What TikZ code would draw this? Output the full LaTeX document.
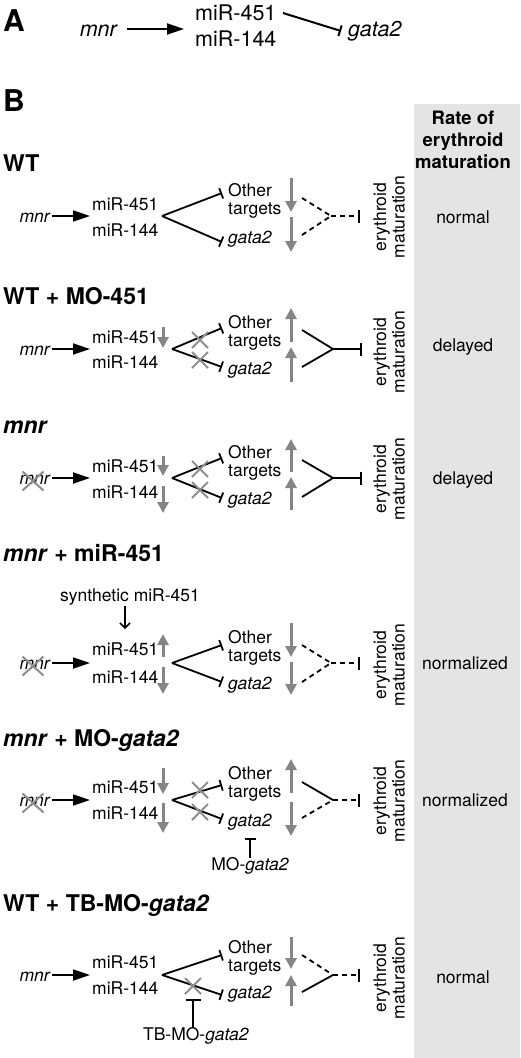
\documentclass[tikz,border=0pt]{standalone}
\usepackage{fontspec}
\setmainfont{TeX Gyre Heros}
\usetikzlibrary{arrows.meta,shapes.misc,calc}
\definecolor{colbg}{HTML}{E4E4E4}
\definecolor{garr}{HTML}{858585}
\definecolor{gxc}{HTML}{8E8E8E}
\begin{document}
\begin{tikzpicture}[x=1pt,y=-1pt,
  txt/.style={inner sep=0pt,font=\fontsize{17.5}{20}\selectfont,text height=12.5pt,text depth=0pt},
  it/.style={txt,font=\fontsize{17.5}{20}\selectfont\itshape},
  txtA/.style={inner sep=0pt,font=\fontsize{21.5}{24}\selectfont,text height=15.5pt,text depth=0pt},
  itA/.style={txtA,font=\fontsize{21.5}{24}\selectfont\itshape},
  ttl/.style={inner sep=0pt,font=\fontsize{23}{26}\selectfont\bfseries,text height=16.5pt,text depth=0pt},
  lbl/.style={inner sep=0pt,font=\fontsize{30}{32}\selectfont\bfseries},
  ery/.style={inner sep=0pt,rotate=90,align=center,font=\fontsize{17.5}{18.5}\selectfont},
  act/.style={draw,line width=1.8pt,-{Triangle[length=17pt,width=11pt]}},
  inh/.style={draw,line width=1.8pt,-{Bar[width=11pt]}},
  dsh/.style={draw,line width=1.8pt,dash pattern=on 5pt off 4pt},
  garrow/.style={draw=garr,line width=3pt,-{Triangle[length=11pt,width=11pt]}},
  gx/.style={draw=gxc,cross out,line width=2pt,minimum size=14pt,inner sep=0pt},
  gxm/.style={draw=gxc,cross out,line width=2pt,minimum width=19pt,minimum height=17pt,inner sep=0pt}]
\useasboundingbox (0,0) rectangle (520,1058);
\fill[colbg] (414,104) rectangle (520,1058);

% ---------- Panel A
\node[lbl,anchor=west] (A) at (3,21) {A};
\node[itA,anchor=east] (mnrA) at (117,29) {mnr};
\node[txtA,anchor=west] (m451A) at (195,13) {miR-451};
\node[txtA,anchor=west] (m144A) at (195,39) {miR-144};
\node[itA,anchor=west] (gataA) at (348,29) {gata2};
\draw[act,line width=2pt] ([xshift=10pt]mnrA.east) -- ([xshift=-11pt]mnrA.east -| m451A.west);
\coordinate (aS) at (283,13);
\coordinate (aE) at (341,31);
\draw[inh,line width=2pt] (aS) -- (aE);

% ---------- Panel B header
\node[lbl,anchor=west] (B) at (3,101) {B};
\node[align=center,inner sep=0pt,font=\fontsize{18.5}{22}\selectfont\bfseries] (hdr) at (463,140) {Rate of\\erythroid\\maturation};

% ---------- WT
\begin{scope}[shift={(0,216)}]
\node[ttl,anchor=west] (t1) at (3,-53) {WT};
\node[it,anchor=east] (mnr1) at (50,0) {mnr};
\node[txt,anchor=west] (m451a) at (92,-12) {miR-451};
\node[txt,anchor=west] (m144a) at (92,14) {miR-144};
\draw[act] ([xshift=2pt]mnr1.east) -- ([xshift=-2pt]mnr1.east -| m451a.west);
\coordinate (ap1) at (162,0);
\coordinate (u1) at (222,-23);
\coordinate (l1) at (222,26);
\node[txt,anchor=west] (oth1) at (228,-26) {Other};
\node[txt,anchor=west] (tg1) at (228,-8) {targets};
\node[it,anchor=west] (ga1) at (228,21) {gata2};
\draw[inh] (ap1) -- (u1);
\draw[inh] (ap1) -- (l1);
\draw[garrow] (291,-38) -- (291,-4);
\draw[garrow] (291,1) -- (291,36);
\coordinate (d1a) at (302,-18);
\coordinate (d1b) at (302,19);
\coordinate (j1) at (331,0);
\coordinate (b1) at (360,0);
\draw[dsh] (d1a) -- (j1);
\draw[dsh] (d1b) -- (j1);
\draw[dsh,-{Bar[width=13pt]}] (j1) -- (b1);
\node[ery] (e1) at (389,1) {erythroid\\maturation};
\node[txt] (r1) at (463,1) {normal};
\end{scope}

% ---------- WT + MO-451
\begin{scope}[shift={(0,349)}]
\node[ttl,anchor=west] (t2) at (3,-53) {WT + MO-451};
\node[it,anchor=east] (mnr2) at (50,0) {mnr};
\node[txt,anchor=west] (m451b) at (92,-12) {miR-451};
\node[txt,anchor=west] (m144b) at (92,13) {miR-144};
\draw[act] ([xshift=2pt]mnr2.east) -- ([xshift=-2pt]mnr2.east -| m451b.west);
\draw[garrow] (163,-22) -- (163,-1);
\coordinate (ap2) at (172,0);
\coordinate (u2) at (222,-21);
\coordinate (l2) at (222,18);
\node[txt,anchor=west] (oth2) at (228,-27) {Other};
\node[txt,anchor=west] (tg2) at (228,-9) {targets};
\node[it,anchor=west] (ga2) at (228,19) {gata2};
\draw[inh] (ap2) -- (u2);
\draw[inh] (ap2) -- (l2);
\node[gx] (x2a) at (200,-9) {};
\node[gx] (x2b) at (200,11) {};
\draw[garrow] (291,-7) -- (291,-41);
\draw[garrow] (291,33) -- (291,-2);
\coordinate (d2a) at (302,-19);
\coordinate (d2b) at (302,18);
\coordinate (j2) at (333,0);
\coordinate (b2) at (362,0);
\draw[line width=1.8pt] (d2a) -- (j2) -- (d2b);
\draw[inh,-{Bar[width=13pt]}] (j2) -- (b2);
\node[ery] (e2) at (389,3) {erythroid\\maturation};
\node[txt] (r2) at (463,-4) {delayed};
\end{scope}

% ---------- mnr
\begin{scope}[shift={(0,478)}]
\node[ttl,anchor=west,font=\fontsize{23}{26}\selectfont\bfseries\itshape] (t3) at (3,-53) {mnr};
\node[it,anchor=east] (mnr3) at (50,0) {mnr};
\node[gxm] (xm3) at (33,3) {};
\node[txt,anchor=west] (m451c) at (92,-12) {miR-451};
\node[txt,anchor=west] (m144c) at (92,14) {miR-144};
\draw[act] ([xshift=2pt]mnr3.east) -- ([xshift=-2pt]mnr3.east -| m451c.west);
\draw[garrow] (163,-22) -- (163,-2);
\draw[garrow] (163,8) -- (163,35);
\coordinate (ap3) at (172,0);
\coordinate (u3) at (222,-20);
\coordinate (l3) at (222,20);
\node[txt,anchor=west] (oth3) at (228,-26) {Other};
\node[txt,anchor=west] (tg3) at (228,-8) {targets};
\node[it,anchor=west] (ga3) at (228,20) {gata2};
\draw[inh] (ap3) -- (u3);
\draw[inh] (ap3) -- (l3);
\node[gx] (x3a) at (200,-9) {};
\node[gx] (x3b) at (200,12) {};
\draw[garrow] (291,-6) -- (291,-39);
\draw[garrow] (291,32) -- (291,-1);
\coordinate (d3a) at (302,-18);
\coordinate (d3b) at (302,19);
\coordinate (j3) at (333,0);
\coordinate (b3) at (362,0);
\draw[line width=1.8pt] (d3a) -- (j3) -- (d3b);
\draw[inh,-{Bar[width=13pt]}] (j3) -- (b3);
\node[ery] (e3) at (389,1) {erythroid\\maturation};
\node[txt] (r3) at (463,0) {delayed};
\end{scope}

% ---------- mnr + miR-451
\begin{scope}[shift={(0,663)}]
\node[ttl,anchor=west] (t4) at (3,-110) {\textit{mnr} + miR-451};
\node[txt] (syn) at (130,-68) {synthetic miR-451};
\coordinate (syE) at (125,-34);
\draw[line width=1.5pt,-{Straight Barb[length=5pt,width=10pt]}] ([xshift=-5pt,yshift=-5pt]syn.south) -- (syE);
\node[it,anchor=east] (mnr4) at (50,0) {mnr};
\node[gxm] (xm4) at (33,3) {};
\node[txt,anchor=west] (m451d) at (92,-14) {miR-451};
\node[txt,anchor=west] (m144d) at (92,14) {miR-144};
\draw[act] ([xshift=2pt]mnr4.east) -- ([xshift=-2pt]mnr4.east -| m451d.west);
\draw[garrow] (163,-6) -- (163,-29);
\draw[garrow] (163,4) -- (163,31);
\coordinate (ap4) at (172,0);
\coordinate (u4) at (222,-18);
\coordinate (l4) at (222,19);
\node[txt,anchor=west] (oth4) at (228,-26) {Other};
\node[txt,anchor=west] (tg4) at (228,-8) {targets};
\node[it,anchor=west] (ga4) at (228,20) {gata2};
\draw[inh] (ap4) -- (u4);
\draw[inh] (ap4) -- (l4);
\draw[garrow] (291,-40) -- (291,-6);
\draw[garrow] (291,-1) -- (291,32);
\coordinate (d4a) at (302,-18);
\coordinate (d4b) at (302,19);
\coordinate (j4) at (331,0);
\coordinate (b4) at (360,0);
\draw[dsh] (d4a) -- (j4);
\draw[dsh] (d4b) -- (j4);
\draw[dsh,-{Bar[width=13pt]}] (j4) -- (b4);
\node[ery] (e4) at (389,2) {erythroid\\maturation};
\node[txt] (r4) at (465,0) {normalized};
\end{scope}

% ---------- mnr + MO-gata2
\begin{scope}[shift={(0,800)}]
\node[ttl,anchor=west] (t5) at (3,-62) {\textit{mnr} + MO-\textit{gata2}};
\node[it,anchor=east] (mnr5) at (50,0) {mnr};
\node[gxm] (xm5) at (33,3) {};
\node[txt,anchor=west] (m451e) at (92,-13) {miR-451};
\node[txt,anchor=west] (m144e) at (92,13) {miR-144};
\draw[act] ([xshift=2pt]mnr5.east) -- ([xshift=-2pt]mnr5.east -| m451e.west);
\draw[garrow] (163,-32) -- (163,-6);
\draw[garrow] (163,3) -- (163,33);
\coordinate (ap5) at (172,0);
\coordinate (u5) at (222,-15);
\coordinate (l5) at (222,19);
\node[txt,anchor=west] (oth5) at (228,-27) {Other};
\node[txt,anchor=west] (tg5) at (228,-9) {targets};
\node[it,anchor=west] (ga5) at (228,20) {gata2};
\draw[inh] (ap5) -- (u5);
\draw[inh] (ap5) -- (l5);
\node[gx] (x5a) at (200,-10) {};
\node[gx] (x5b) at (200,12) {};
\draw[garrow] (291,-7) -- (291,-41);
\draw[garrow] (291,2) -- (291,36);
\coordinate (d5a) at (302,-18);
\coordinate (d5b) at (302,18);
\coordinate (j5) at (333,0);
\coordinate (b5) at (360,0);
\draw[line width=1.8pt] (d5a) -- (j5);
\draw[dsh] (d5b) -- (j5);
\draw[dsh,-{Bar[width=13pt]}] (j5) -- (b5);
\node[it,anchor=north,font=\fontsize{17.5}{20}\selectfont] (mo) at (250,58) {\upshape MO-\itshape gata2};
\coordinate (moB) at (250,38);
\draw[inh,-{Bar[width=11pt]}] (mo.north) -- (moB);
\node[ery] (e5) at (389,1) {erythroid\\maturation};
\node[txt] (r5) at (465,0) {normalized};
\end{scope}

% ---------- WT + TB-MO-gata2
\begin{scope}[shift={(0,975)}]
\node[ttl,anchor=west] (t6) at (3,-72) {WT + TB-MO-\textit{gata2}};
\node[it,anchor=east] (mnr6) at (50,0) {mnr};
\node[txt,anchor=west] (m451f) at (92,-13) {miR-451};
\node[txt,anchor=west] (m144f) at (92,13) {miR-144};
\draw[act] ([xshift=2pt]mnr6.east) -- ([xshift=-2pt]mnr6.east -| m451f.west);
\coordinate (ap6) at (162,0);
\coordinate (u6) at (222,-20);
\coordinate (l6) at (222,20);
\node[txt,anchor=west] (oth6) at (228,-28) {Other};
\node[txt,anchor=west] (tg6) at (228,-10) {targets};
\node[it,anchor=west] (ga6) at (228,17) {gata2};
\draw[inh] (ap6) -- (u6);
\draw[inh] (ap6) -- (l6);
\node[gx] (x6) at (193,11) {};
\node[txt,anchor=north] (tb) at (196,53) {TB-MO-\textit{gata2}};
\coordinate (tbB) at (193,24);
\draw[inh,-{Bar[width=15pt]}] (tb.north -| tbB) -- (tbB);
\draw[garrow] (291,-38) -- (291,-6);
\draw[garrow] (291,31) -- (291,0);
\coordinate (d6a) at (302,-20);
\coordinate (d6b) at (302,17);
\coordinate (j6) at (333,0);
\coordinate (b6) at (360,0);
\draw[dsh] (d6a) -- (j6);
\draw[line width=1.8pt] (d6b) -- (j6);
\draw[dsh,-{Bar[width=13pt]}] (j6) -- (b6);
\node[ery] (e6) at (389,3) {erythroid\\maturation};
\node[txt] (r6) at (463,2) {normal};
\end{scope}
\end{tikzpicture}
\end{document}
